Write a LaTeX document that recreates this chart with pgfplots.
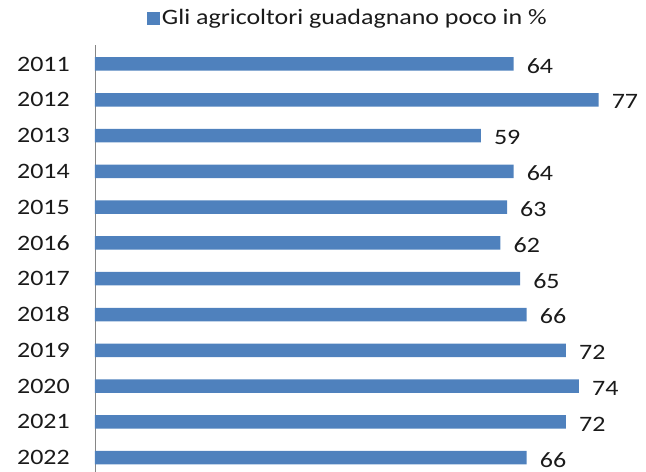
\documentclass[border=0pt]{standalone}
\usepackage{fontspec}
\setmainfont[FakeStretch=1.18]{Carlito}
\usepackage{pgfplots}
\pgfplotsset{compat=1.18}
\definecolor{barBlue}{HTML}{4F81BD}
\definecolor{axisGray}{HTML}{868686}
\definecolor{txt}{HTML}{1A1A1A}

\begin{document}
\begin{tikzpicture}
  \useasboundingbox (-95bp,0) rectangle (551bp,472bp);
  \begin{axis}[
    at={(0,0)}, anchor=south west,
    scale only axis, width=551bp, height=427bp,
    xbar, bar width=13.5bp,
    xmin=0, xmax=84.25,
    ymin=-0.53, ymax=11.4, y dir=reverse,
    axis x line=none,
    axis y line*=left, axis line style={draw=axisGray, line width=0.6pt},
    ytick={0,...,11},
    yticklabels={2011,2012,2013,2014,2015,2016,2017,2018,2019,2020,2021,2022},
    major tick length=0pt,
    yticklabel style={font=\fontsize{22bp}{24bp}\selectfont\color{txt}, inner sep=0pt, xshift=-25bp},
    /pgf/number format/assume math mode=true,
    nodes near coords,
    nodes near coords style={font=\fontsize{22bp}{24bp}\selectfont\color{txt}, anchor=west, xshift=13bp, yshift=-2bp, inner sep=0pt},
    legend style={draw=none, fill=none, at={(0.094,1.063)}, anchor=west, inner sep=0pt,
      font=\fontsize{22bp}{24bp}\selectfont\color{txt}},
    legend image code/.code={\fill[barBlue] (0bp,-6.5bp) rectangle (13bp,6.5bp);},
    clip=false,
  ]
    \addplot[fill=barBlue, draw=none] coordinates {
      (64,0) (77,1) (59,2) (64,3) (63,4) (62,5) (65,6) (66,7) (72,8) (74,9) (72,10) (66,11)
    };
    \addlegendentry{Gli agricoltori guadagnano poco in \%}
  \end{axis}
\end{tikzpicture}
\end{document}
